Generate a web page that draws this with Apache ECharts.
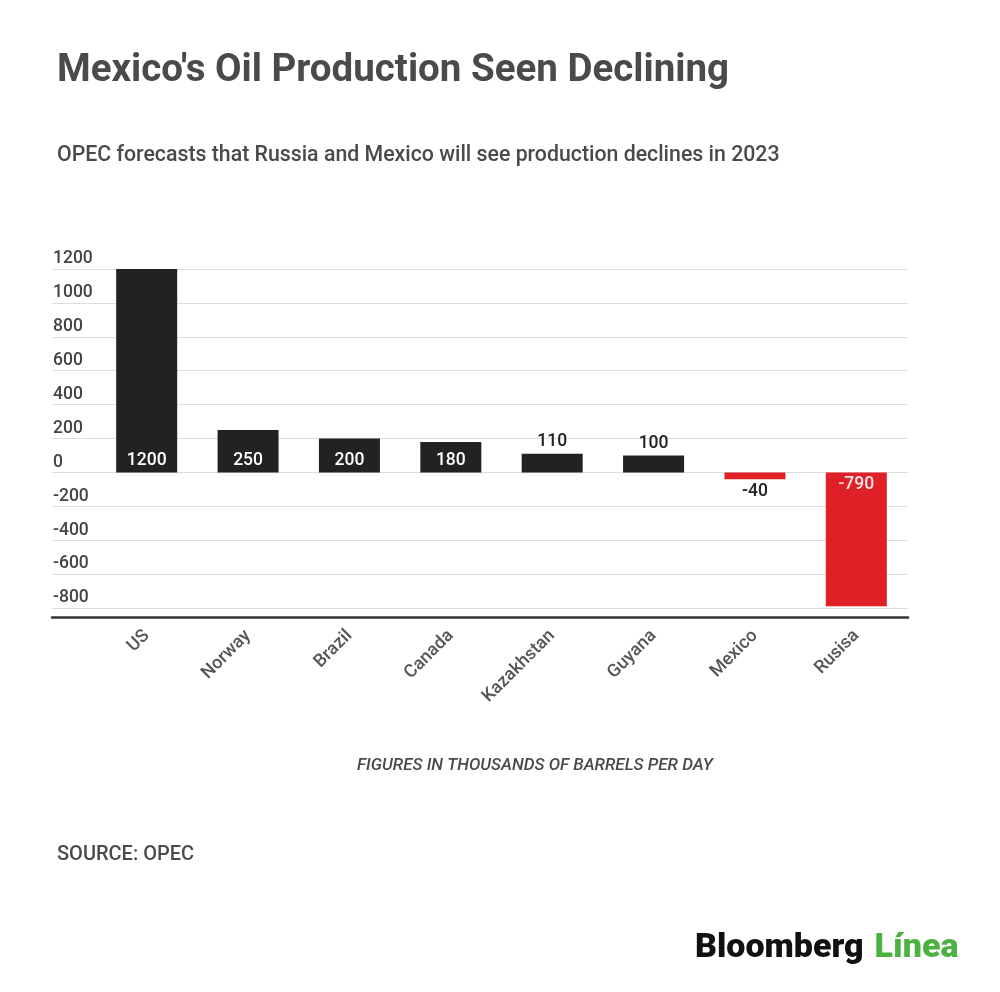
<!DOCTYPE html>
<html>
<head>
<meta charset="utf-8">
<title>Mexico's Oil Production Seen Declining</title>
<script src="https://cdn.jsdelivr.net/npm/echarts@6/dist/echarts.min.js"></script>
<style>
  html, body { margin: 0; padding: 0; background: #fff; }
  #main { width: 1000px; height: 992px; }
</style>
</head>
<body>
<div id="main"></div>
<script>
// data (thousands of barrels per day)
const countries = ['US', 'Norway', 'Brazil', 'Canada', 'Kazakhstan', 'Guyana', 'Mexico', 'Rusisa'];
const changes = [1200, 250, 200, 180, 110, 100, -40, -790];
const yTicks = [-800, -600, -400, -200, 0, 200, 400, 600, 800, 1000, 1200];

const DARK = '#222222';
const RED = '#e01f26';
const TXT = '#4a4a4a';
const FONT = 'Roboto, "Noto Sans", sans-serif';

// short bars get their label outside, tall ones inside
function barItem(v) {
    let pos, color;
    if (v >= 150) { pos = 'insideBottom'; color = '#fff'; }
    else if (v >= 0) { pos = 'top'; color = DARK; }
    else if (v > -100) { pos = 'bottom'; color = DARK; }
    else { pos = 'insideTop'; color = '#fde8e8'; }
    return {
        value: v,
        itemStyle: { color: v < 0 ? RED : DARK },
        label: { position: pos, color: color }
    };
}

const myChart = echarts.init(document.getElementById('main'));

const option = {
    backgroundColor: '#fff',
    textStyle: { fontFamily: FONT },
    graphic: [
        {
            type: 'text', left: 57, top: 52,
            style: { text: "Mexico's Oil Production Seen Declining", font: 'bold 38.5px ' + FONT, fill: TXT }
        },
        {
            type: 'text', left: 57, top: 145,
            style: { text: 'OPEC forecasts that Russia and Mexico will see production declines in 2023', font: '500 21.3px ' + FONT, fill: TXT }
        },
        {
            type: 'text', left: 357, top: 757,
            style: { text: 'FIGURES IN THOUSANDS OF BARRELS PER DAY', font: 'italic 500 17px ' + FONT, fill: TXT }
        },
        {
            type: 'text', left: 57, top: 845,
            style: { text: 'SOURCE: OPEC', font: '500 20px ' + FONT, fill: TXT }
        },
        {
            type: 'text', left: 695, top: 931,
            style: {
                text: '{b|Bloomberg}{g|Línea}',
                rich: {
                    b: { font: '900 34px ' + FONT, fill: '#111' },
                    g: { font: '900 34px ' + FONT, fill: '#4db141', padding: [0, 0, 0, 11] }
                }
            }
        }
    ],
    grid: [
        { left: 52, right: 92, top: 269, bottom: 384 },
        { left: 96, right: 93, top: 269, bottom: 384 }
    ],
    xAxis: [
        {
            gridIndex: 0, type: 'category', data: countries, offset: 9,
            axisLine: { show: true, onZero: false, lineStyle: { color: '#333', width: 2.5 } },
            axisTick: { show: false }, axisLabel: { show: false }
        },
        {
            gridIndex: 1, type: 'category', data: countries, offset: 9,
            axisLine: { show: false, onZero: false }, axisTick: { show: false },
            axisLabel: { rotate: 45, margin: 16, fontSize: 18, fontWeight: 500, color: '#555', fontFamily: FONT }
        }
    ],
    yAxis: [
        {
            gridIndex: 0, type: 'value',
            min: yTicks[0], max: yTicks[yTicks.length - 1], interval: 200,
            axisLine: { show: false }, axisTick: { show: false },
            axisLabel: {
                inside: true, margin: 1, verticalAlign: 'bottom', padding: [0, 0, 1, 0],
                fontSize: 17.5, fontWeight: 500, color: '#454545', fontFamily: FONT,
                formatter: v => String(v)
            },
            splitLine: { lineStyle: { color: '#dddddd', width: 1 } }
        },
        {
            gridIndex: 1, type: 'value',
            min: yTicks[0], max: yTicks[yTicks.length - 1], interval: 200,
            axisLine: { show: false }, axisTick: { show: false },
            axisLabel: { show: false }, splitLine: { show: false }
        }
    ],
    series: [
        {
            type: 'bar', xAxisIndex: 1, yAxisIndex: 1,
            barWidth: 61,
            data: changes.map(barItem),
            label: { show: true, distance: 3, fontSize: 17.5, fontWeight: 500, fontFamily: FONT },
            animation: false
        }
    ]
};

myChart.setOption(option);
</script>
</body>
</html>
